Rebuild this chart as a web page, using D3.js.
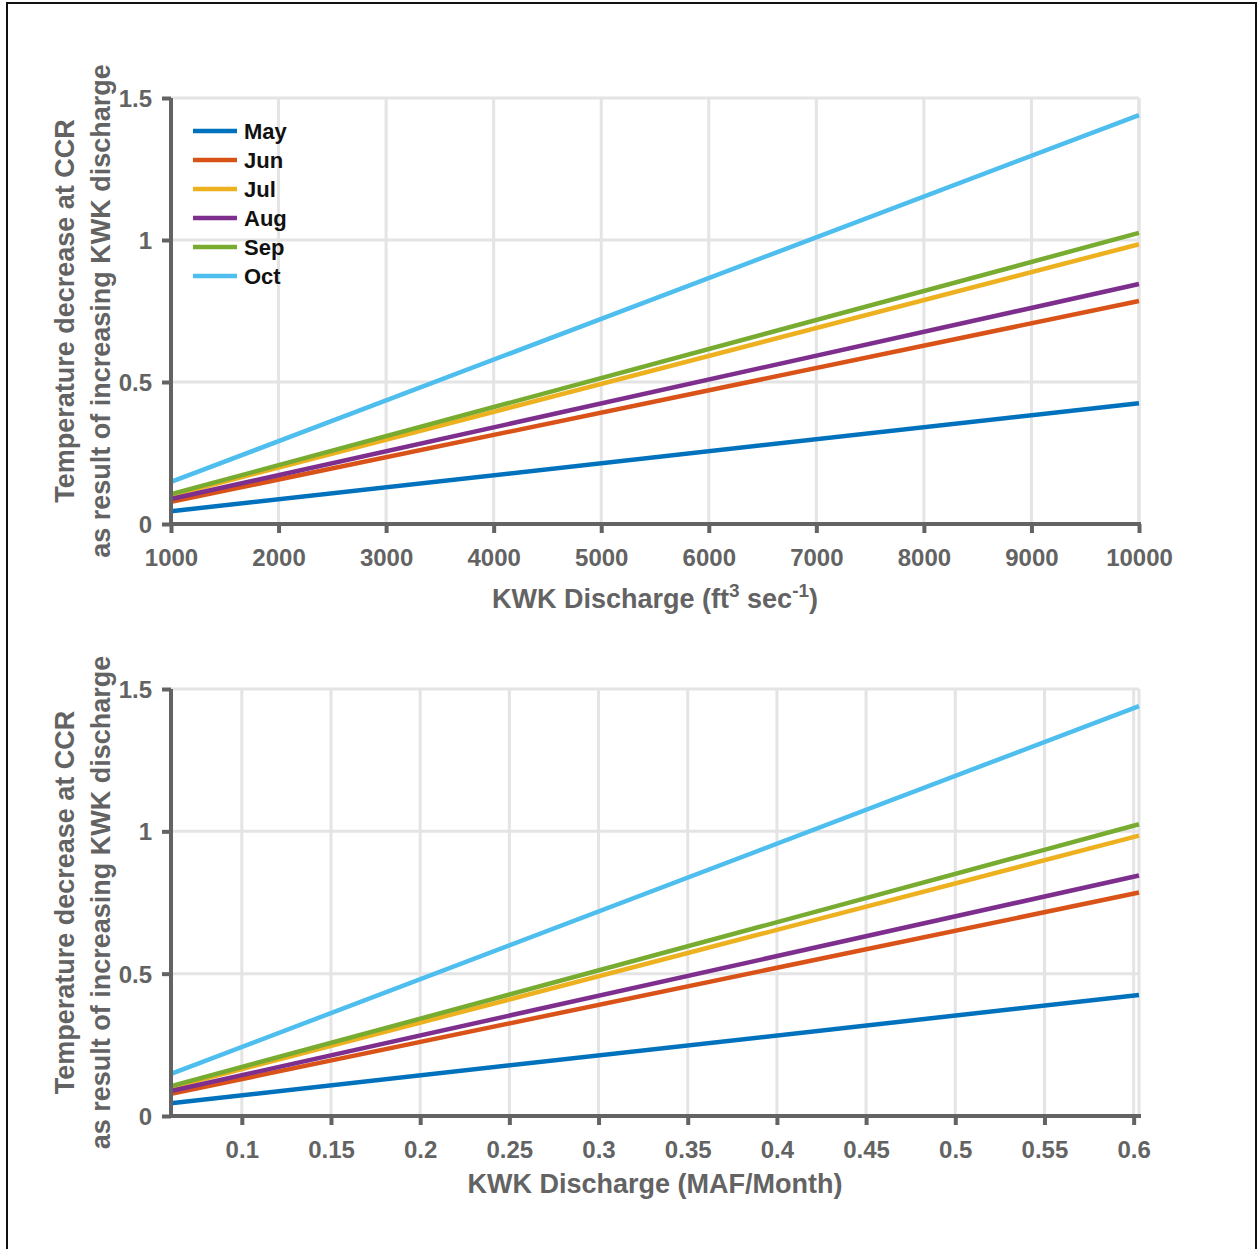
<!DOCTYPE html>
<html>
<head>
<meta charset="utf-8">
<script src="https://cdn.jsdelivr.net/npm/d3@7"></script>
<style>
  body { margin: 0; background: #fff; }
  svg { font-family: "Liberation Sans", Arial, sans-serif; font-weight: bold; }
  .axis path, .axis line { stroke: #636363; }
  .axis text { fill: #636363; font-size: 24px; font-weight: bold; font-family: "Liberation Sans", Arial, sans-serif; }
</style>
</head>
<body>
<svg id="chart"></svg>
<script>
// months and their colours (MATLAB default order)
const months = ["May", "Jun", "Jul", "Aug", "Sep", "Oct"];
const monthColors = ["#0072BD", "#D95319", "#EDB120", "#7E2F8E", "#77AC30", "#4DBEEE"];

// discharge at both ends of the lines, in two units
const dischargeCfs = [1000, 10000];
const dischargeMaf = [0.0603, 0.603];

// temperature decrease at the two ends
const tempMay = [0.045, 0.425];
const tempJun = [0.078, 0.785];
const tempJul = [0.100, 0.985];
const tempAug = [0.088, 0.845];
const tempSep = [0.105, 1.025];
const tempOct = [0.148, 1.440];
const allTemps = [tempMay, tempJun, tempJul, tempAug, tempSep, tempOct];

// tick labels
const cfsTicks = [1000, 2000, 3000, 4000, 5000, 6000, 7000, 8000, 9000, 10000];
const mafTicks = [0.1, 0.15, 0.2, 0.25, 0.3, 0.35, 0.4, 0.45, 0.5, 0.55, 0.6];
const yTicks = [0, 0.5, 1, 1.5];

const W = 1257, H = 1249;
const svg = d3.select("#chart").attr("width", W).attr("height", H);

// outer frame
svg.append("rect")
    .attr("x", 7).attr("y", 3)
    .attr("width", 1249).attr("height", 1260)
    .attr("fill", "none").attr("stroke", "#111").attr("stroke-width", 2);

const left = 171, right = 1139;

function drawPanel(top, bottom, xVals, xDomain, xTickVals, xTitle, titleGap, showLegend) {
    const g = svg.append("g");
    const x = d3.scaleLinear().domain(xDomain).range([left, right]);
    const y = d3.scaleLinear().domain([0, 1.5]).range([bottom, top]);

    // grid (light grey), incl. box edges at top/right
    g.selectAll("line.vgrid")
        .data(xTickVals)
        .enter().append("line")
        .attr("x1", d => x(d)).attr("x2", d => x(d))
        .attr("y1", top).attr("y2", bottom)
        .attr("stroke", "#e4e4e4").attr("stroke-width", 3);
    g.append("line")
        .attr("x1", right).attr("x2", right).attr("y1", top).attr("y2", bottom)
        .attr("stroke", "#e4e4e4").attr("stroke-width", 3);
    g.selectAll("line.hgrid")
        .data(yTicks.filter(d => d > 0))
        .enter().append("line")
        .attr("x1", left).attr("x2", right)
        .attr("y1", d => y(d)).attr("y2", d => y(d))
        .attr("stroke", "#e4e4e4").attr("stroke-width", 3);

    // series lines
    const line = d3.line().x((d, i) => x(xVals[i])).y(d => y(d));
    allTemps.forEach((vals, k) => {
        g.append("path")
            .datum(vals)
            .attr("d", line)
            .attr("fill", "none")
            .attr("stroke", monthColors[k])
            .attr("stroke-width", 4.5);
    });

    // axes
    const xAxis = d3.axisBottom(x).tickValues(xTickVals).tickFormat(d => String(d))
        .tickSizeInner(9).tickSizeOuter(0).tickPadding(14);
    const yAxis = d3.axisLeft(y).tickValues(yTicks).tickFormat(d => String(d))
        .tickSizeInner(9).tickSizeOuter(0).tickPadding(10);

    const gx = g.append("g").attr("class", "axis")
        .attr("transform", `translate(0,${bottom})`)
        .call(xAxis);
    gx.select(".domain").attr("stroke-width", 4).attr("d", `M${left - 2},0H${right + 2}`);
    gx.selectAll(".tick line").attr("stroke-width", 4);
    gx.selectAll(".tick text").attr("dy", "0.8em");

    const gy = g.append("g").attr("class", "axis")
        .attr("transform", `translate(${left},0)`)
        .call(yAxis);
    gy.select(".domain").attr("stroke-width", 4).attr("d", `M0,${top}V${bottom + 2}`);
    gy.selectAll(".tick line").attr("stroke-width", 4);
    gy.selectAll(".tick text").attr("dy", "0.36em");

    // x title
    const xt = g.append("text")
        .attr("x", (left + right) / 2)
        .attr("y", bottom + titleGap)
        .attr("text-anchor", "middle")
        .attr("fill", "#636363")
        .style("font-size", "27px");
    xTitle.forEach(p => {
        const t = xt.append("tspan").text(p.text);
        if (p.sup) t.attr("dy", -11).style("font-size", "19px");
        if (p.down) t.attr("dy", 11);
    });

    // y title, two lines
    const cy = (top + bottom) / 2;
    [["Temperature decrease at CCR", 74], ["as result of increasing KWK discharge", 110]].forEach(([txt, bx]) => {
        g.append("text")
            .attr("transform", `translate(${bx},${cy}) rotate(-90)`)
            .attr("text-anchor", "middle")
            .attr("fill", "#636363")
            .style("font-size", "27px")
            .text(txt);
    });

    if (showLegend) {
        const lg = g.append("g").attr("transform", `translate(193,${top + 33})`);
        months.forEach((m, i) => {
            const row = lg.append("g").attr("transform", `translate(0,${i * 29})`);
            row.append("line")
                .attr("x1", 0).attr("x2", 44)
                .attr("stroke", monthColors[i]).attr("stroke-width", 4.5);
            row.append("text")
                .attr("x", 51).attr("dy", "0.36em")
                .attr("fill", "#111")
                .style("font-size", "22px")
                .text(m);
        });
    }
}

drawPanel(98, 524, dischargeCfs, [1000, 10000], cfsTicks,
    [{text: "KWK Discharge (ft"}, {text: "3", sup: true}, {text: " sec", down: true},
     {text: "-1", sup: true}, {text: ")", down: true}],
    84, true);

drawPanel(689, 1116, dischargeMaf, [0.0603, 0.603], mafTicks,
    [{text: "KWK Discharge (MAF/Month)"}],
    77, false);
</script>
</body>
</html>
